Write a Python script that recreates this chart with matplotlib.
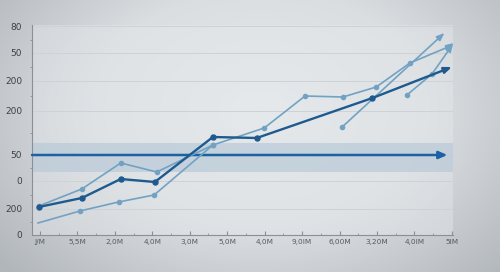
import numpy as np
import matplotlib
matplotlib.use("Agg")
import matplotlib.pyplot as plt
from matplotlib.colors import LinearSegmentedColormap

# ---- data (x in category-index units, y in chart units) ----
x_labels = ["J/M", "5,5M", "2,0M", "4,0M", "3,0M", "5,0M", "4,0M",
            "9,0IM", "6,00M", "3,20M", "4,0IM", "5IM"]
y_tick_pos = [0, 26, 54, 80, 124, 154, 182, 209]
y_tick_labels = ["0", "200", "0", "50", "200", "200", "50", "80"]

dark_x = [-0.03, 1.12, 2.16, 3.07, 4.62, 5.79, 8.88]
dark_y = [28, 37, 56, 53, 98, 97, 137]
dark_arrow_end = (11.0, 168)

upper_x = [-0.03, 1.12, 2.16, 3.12, 4.62, 5.99, 7.08, 8.09, 8.98, 9.88, 10.9]
upper_y = [29, 46, 72, 63, 90, 107, 139, 138, 148, 172, 188]
upper_arrow_end = (11.05, 192)

lower_x = [-0.05, 1.07, 2.1, 3.05, 4.62]
lower_y = [12, 24, 33, 40, 90]

steep1_x = [8.07]
steep1_y = [108]
steep1_arrow_end = (10.8, 202)

steep2_x = [9.8, 10.47]
steep2_y = [140, 161]
steep2_arrow_end = (11.03, 191)

band_low, band_high = 63, 92
ref_level = 80
ref_arrow_end = 10.88

# ---- style ----
DARK = "#1f5a8f"
LIGHT = "#72a2c3"
REF = "#1c62a3"
BAND = "#b9cad8"

fig = plt.figure(figsize=(5.0, 2.72), dpi=100)

# background gradient
bg = fig.add_axes([0, 0, 1, 1], zorder=-10)
yy, xx = np.mgrid[0:272, 0:500]
cx, cy = 260, 110
r = np.sqrt(((xx - cx) / 340.0) ** 2 + ((yy - cy) / 240.0) ** 2)
cmap = LinearSegmentedColormap.from_list("bgc", ["#e7eaec", "#dadee1", "#b1b6bb"])
bg.imshow(np.clip(r, 0, 1), cmap=cmap, vmin=0, vmax=1, aspect="auto",
          extent=[0, 1, 0, 1], origin="upper")
bg.set_axis_off()

L, R, B, T = 32 / 500, 453 / 500, (272 - 235) / 272, (272 - 25) / 272
ax = fig.add_axes([L, B, R - L, T - B])
ax.set_facecolor("none")
x0 = -0.21
x1 = 11.03
ax.set_xlim(x0, x1)
ax.set_ylim(0, 210)

# light plot area tint
ax.axhspan(0, 210, color="#e4e8eb", alpha=0.45, zorder=0, lw=0)

for yv in y_tick_pos[1:]:
    ax.axhline(yv, color="#cdd2d7", lw=0.7, zorder=1)

ax.axhspan(band_low, band_high, color=BAND, alpha=0.7, zorder=1, lw=0)

ax.annotate("", xy=(ref_arrow_end, ref_level), xytext=(x0, ref_level),
            arrowprops=dict(arrowstyle="-|>,head_length=0.5,head_width=0.22",
                            color=REF, lw=1.8, shrinkA=0, shrinkB=0), zorder=3)

def arrow_to(xs, ys, end, color, lw):
    ax.annotate("", xy=end, xytext=(xs[-1], ys[-1]),
                arrowprops=dict(arrowstyle="-|>,head_length=0.45,head_width=0.18",
                                color=color, lw=lw, shrinkA=0, shrinkB=0),
                zorder=4, annotation_clip=False)

ax.plot(lower_x, lower_y, color=LIGHT, lw=1.2, zorder=3)
ax.plot(lower_x[1:], lower_y[1:], "o", color=LIGHT, ms=3.0, zorder=3)

ax.plot(upper_x, upper_y, color=LIGHT, lw=1.2, marker="o", ms=3.0, zorder=3)
arrow_to(upper_x, upper_y, upper_arrow_end, LIGHT, 1.2)

ax.plot(steep1_x, steep1_y, "o", color=LIGHT, ms=3.0, zorder=3)
arrow_to(steep1_x, steep1_y, steep1_arrow_end, LIGHT, 1.2)

ax.plot(steep2_x, steep2_y, color=LIGHT, lw=1.2, marker="o", ms=3.0, zorder=3)
arrow_to(steep2_x, steep2_y, steep2_arrow_end, LIGHT, 1.2)

ax.plot(dark_x, dark_y, color=DARK, lw=1.7, marker="o", ms=3.6, zorder=5)
arrow_to(dark_x, dark_y, dark_arrow_end, DARK, 1.7)

# axes styling
for s in ["top", "right"]:
    ax.spines[s].set_visible(False)
for s in ["left", "bottom"]:
    ax.spines[s].set_color("#8a9096")
    ax.spines[s].set_linewidth(0.8)

ax.set_xticks(range(len(x_labels)))
ax.set_xticklabels(x_labels, fontsize=5.3, color="#555b61")
ax.set_xticks(np.arange(0.5, 11, 1.0), minor=True)
ax.tick_params(axis="x", which="major", direction="in", length=3, color="#8a9096",
               pad=3)
ax.tick_params(axis="x", which="minor", direction="in", length=1.5, color="#8a9096")

ax.set_yticks(y_tick_pos)
ax.set_yticklabels(y_tick_labels, fontsize=6.5, color="#3c4146")
ax.set_yticks([13, 40, 67, 102, 139, 168, 195], minor=True)
ax.tick_params(axis="y", which="major", direction="in", length=0, pad=7)
ax.tick_params(axis="y", which="minor", direction="out", length=1.5, color="#8a9096")

fig.savefig("out.png", dpi=100)
